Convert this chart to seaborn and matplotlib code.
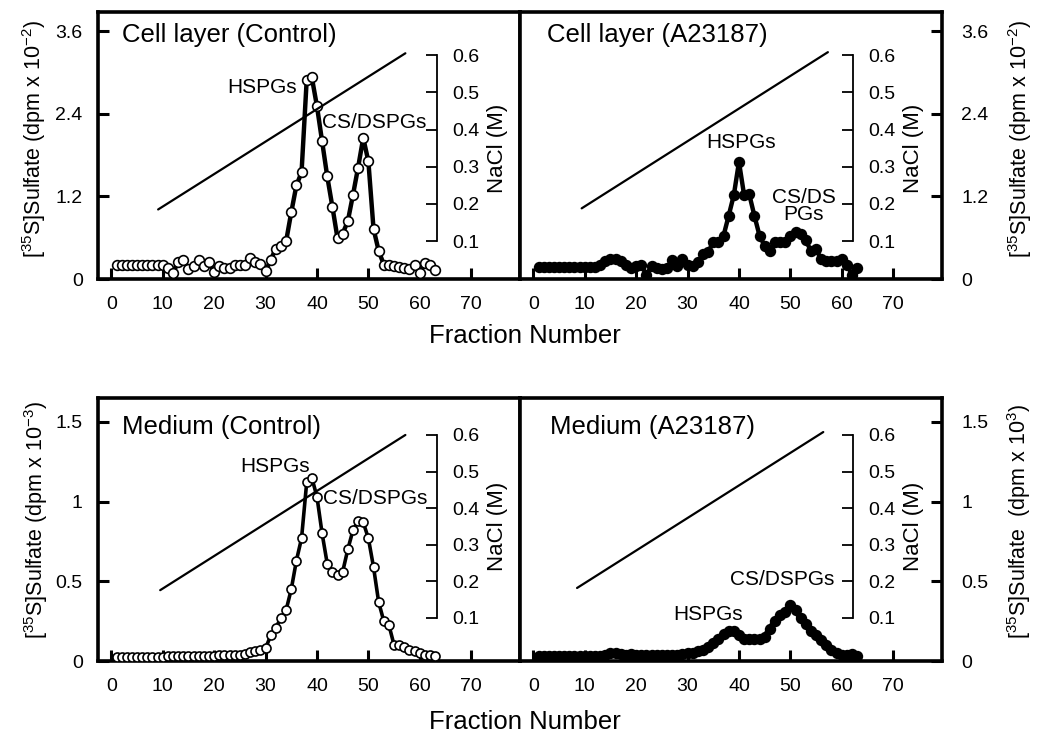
import matplotlib
matplotlib.use('Agg')
import matplotlib.pyplot as plt
import seaborn as sns


fractions = list(range(1, 64))

# [35S]sulfate, cell layer, x 10^2 dpm
cell_control = [
    0.20, 0.20, 0.20, 0.20, 0.20, 0.20, 0.20, 0.20, 0.20, 0.20,
    0.16, 0.09, 0.25, 0.28, 0.15, 0.19, 0.28, 0.19, 0.25, 0.10,
    0.19, 0.16, 0.16, 0.20, 0.21, 0.21, 0.30, 0.25, 0.22, 0.11,
    0.28, 0.44, 0.48, 0.55, 0.97, 1.36, 1.55, 2.89, 2.93, 2.51,
    2.00, 1.49, 1.05, 0.59, 0.66, 0.84, 1.22, 1.62, 2.05, 1.71,
    0.73, 0.41, 0.21, 0.20, 0.19, 0.17, 0.16, 0.14, 0.21, 0.09,
    0.23, 0.20, 0.13,
]
cell_a23187 = [
    0.17, 0.17, 0.17, 0.17, 0.17, 0.17, 0.17, 0.17, 0.17, 0.17,
    0.17, 0.17, 0.21, 0.26, 0.29, 0.29, 0.26, 0.21, 0.16, 0.19,
    0.20, 0.06, 0.19, 0.16, 0.14, 0.16, 0.28, 0.19, 0.29, 0.21,
    0.19, 0.24, 0.36, 0.39, 0.54, 0.54, 0.63, 0.92, 1.22, 1.70,
    1.22, 1.23, 0.92, 0.63, 0.48, 0.41, 0.54, 0.54, 0.54, 0.63,
    0.68, 0.65, 0.56, 0.41, 0.43, 0.29, 0.26, 0.26, 0.26, 0.29,
    0.21, 0.06, 0.16,
]

# [35S]sulfate, medium, x 10^3 dpm
medium_control = [
    0.025, 0.025, 0.025, 0.025, 0.025, 0.025, 0.025, 0.025, 0.025, 0.025,
    0.03, 0.03, 0.03, 0.03, 0.03, 0.03, 0.03, 0.03, 0.03, 0.03,
    0.04, 0.04, 0.04, 0.04, 0.04, 0.045, 0.055, 0.065, 0.07, 0.08,
    0.16, 0.21, 0.27, 0.32, 0.45, 0.63, 0.77, 1.12, 1.15, 1.03,
    0.80, 0.61, 0.56, 0.54, 0.56, 0.70, 0.82, 0.88, 0.87, 0.77,
    0.59, 0.37, 0.25, 0.225, 0.10, 0.10, 0.09, 0.07, 0.06, 0.05,
    0.04, 0.04, 0.03,
]
medium_a23187 = [
    0.03, 0.03, 0.03, 0.03, 0.03, 0.03, 0.03, 0.03, 0.03, 0.03,
    0.03, 0.03, 0.03, 0.04, 0.05, 0.05, 0.045, 0.04, 0.045, 0.04,
    0.04, 0.04, 0.04, 0.04, 0.04, 0.04, 0.04, 0.04, 0.045, 0.05,
    0.05, 0.06, 0.07, 0.09, 0.11, 0.14, 0.17, 0.19, 0.19, 0.16,
    0.14, 0.135, 0.135, 0.135, 0.15, 0.20, 0.25, 0.29, 0.31, 0.35,
    0.32, 0.27, 0.23, 0.19, 0.16, 0.13, 0.10, 0.07, 0.05, 0.04,
    0.04, 0.045, 0.03,
]

# NaCl gradient (start / end of the line)
grad_left_x = [9.1, 57.2]
grad_left_nacl = [0.185, 0.605]
grad_right_x = [9.4, 57.3]
grad_right_nacl = [0.188, 0.608]
grad_med_left_x = [9.5, 57.2]
grad_med_left_nacl = [0.176, 0.60]
grad_med_right_x = [8.5, 56.4]
grad_med_right_nacl = [0.182, 0.608]

x_ticks = [0, 10, 20, 30, 40, 50, 60, 70]
cell_yticks = [0, 1.2, 2.4, 3.6]
cell_yticklabels = ['0', '1.2', '2.4', '3.6']
medium_yticks = [0, 0.5, 1, 1.5]
medium_yticklabels = ['0', '0.5', '1', '1.5']
nacl_ticks = [0.1, 0.2, 0.3, 0.4, 0.5, 0.6]
nacl_ticklabels = ['0.1', '0.2', '0.3', '0.4', '0.5', '0.6']

W, H = 1045, 738
FONT = ['Liberation Sans', 'DejaVu Sans']


def rect(left, top, right, bottom):
    return [left / W, 1 - bottom / H, (right - left) / W, (bottom - top) / H]


def draw_panel(fig, box, values, filled, side, ylim, yticks, yticklabels,
               nacl_ylim, nacl_x, grad_x, grad_nacl, title, title_pos,
               notes, lw, ms):
    ax = fig.add_axes(rect(*box))
    ax.set_xlim(-2.6, 79.5)
    ax.set_ylim(*ylim)

    sns.lineplot(x=fractions, y=values, ax=ax, color='black', linewidth=lw,
                 marker='o', markersize=ms,
                 markerfacecolor='black' if filled else 'white',
                 markeredgecolor='black', markeredgewidth=1.2,
                 legend=False, zorder=3)
    ax.set_xlabel('')
    ax.set_ylabel('')

    # NaCl axis drawn inside the panel
    ax2 = ax.twinx()
    ax2.set_ylim(*nacl_ylim)
    for name in ['left', 'top', 'bottom']:
        ax2.spines[name].set_visible(False)
    ax2.spines['right'].set_position(('data', nacl_x))
    ax2.spines['right'].set_bounds(0.1, 0.6)
    ax2.spines['right'].set_linewidth(1.3)
    ax2.set_yticks(nacl_ticks)
    ax2.set_yticklabels(nacl_ticklabels)
    ax2.tick_params(axis='y', direction='in', length=8, width=1.3,
                    labelsize=14, pad=11)
    sns.lineplot(x=grad_x, y=grad_nacl, ax=ax2, color='black',
                 linewidth=1.6, legend=False)
    ax2.set_ylabel('')
    ax2.text(nacl_x + 11.8, 0.35, 'NaCl (M)', rotation=90, fontsize=16,
             ha='center', va='center', family=FONT)

    # main axis styling (after twinx, which resets the tick side)
    for sp in ax.spines.values():
        sp.set_linewidth(2.6)
        sp.set_color('black')
    ax.set_xticks(x_ticks)
    ax.set_xticklabels([str(t) for t in x_ticks])
    ax.set_yticks(yticks)
    ax.set_yticklabels(yticklabels)
    ax.tick_params(axis='x', direction='in', length=8, width=2.2,
                   labelsize=14, pad=12, top=False)
    if side == 'left':
        ax.yaxis.tick_left()
        ax.tick_params(axis='y', direction='in', length=8, width=2.2,
                       labelsize=14, pad=11)
    else:
        ax.yaxis.tick_right()
        ax.tick_params(axis='y', direction='in', length=8, width=2.2,
                       labelsize=14, pad=14)

    ax.text(title_pos[0], title_pos[1], title, transform=ax.transAxes,
            fontsize=18.5, ha='left', va='center', family=FONT)
    for txt, x, y in notes:
        ax.text(x, y, txt, fontsize=15, ha='center', va='center',
                linespacing=0.85, family=FONT, zorder=5)
    return ax


def main():
    sns.set_style('ticks')
    plt.rcParams['font.family'] = FONT
    plt.rcParams['text.color'] = 'black'
    plt.rcParams['axes.labelcolor'] = 'black'
    plt.rcParams['axes.edgecolor'] = 'black'
    plt.rcParams['xtick.color'] = 'black'
    plt.rcParams['ytick.color'] = 'black'
    plt.rcParams['mathtext.fontset'] = 'custom'
    plt.rcParams['mathtext.rm'] = 'Liberation Sans'
    plt.rcParams['mathtext.it'] = 'Liberation Sans:italic'
    plt.rcParams['mathtext.bf'] = 'Liberation Sans:bold'

    fig = plt.figure(figsize=(10.45, 7.38), dpi=100)

    top_ylim = (0, 3.88)
    top_nacl = (-0.002, 0.716)
    bot_ylim = (0, 1.65)
    bot_nacl = (-0.0175, 0.701)

    draw_panel(fig, (98, 12, 520, 279), cell_control, False, 'left',
               top_ylim, cell_yticks, cell_yticklabels, top_nacl, 63.4,
               grad_left_x, grad_left_nacl, 'Cell layer (Control)',
               (0.057, 0.914),
               [('HSPGs', 29.3, 2.78), ('CS/DSPGs', 51.1, 2.28)],
               lw=3.2, ms=7.0)
    draw_panel(fig, (520, 12, 942, 279), cell_a23187, True, 'right',
               top_ylim, cell_yticks, cell_yticklabels, top_nacl, 62.2,
               grad_right_x, grad_right_nacl, 'Cell layer (A23187)',
               (0.064, 0.914),
               [('HSPGs', 40.4, 1.99), ('CS/DS\nPGs', 52.6, 1.06)],
               lw=3.2, ms=7.0)
    draw_panel(fig, (98, 398, 520, 661), medium_control, False, 'left',
               bot_ylim, medium_yticks, medium_yticklabels, bot_nacl, 63.4,
               grad_med_left_x, grad_med_left_nacl, 'Medium (Control)',
               (0.057, 0.89),
               [('HSPGs', 31.8, 1.22), ('CS/DSPGs', 51.3, 1.02)],
               lw=2.6, ms=6.5)
    draw_panel(fig, (520, 398, 942, 661), medium_a23187, True, 'right',
               bot_ylim, medium_yticks, medium_yticklabels, bot_nacl, 62.2,
               grad_med_right_x, grad_med_right_nacl, 'Medium (A23187)',
               (0.071, 0.89),
               [('CS/DSPGs', 48.4, 0.51), ('HSPGs', 34.0, 0.29)],
               lw=4.5, ms=7.0)

    fig.text(525 / W, 1 - 336 / H, 'Fraction Number', fontsize=18.5,
             ha='center', va='center')
    fig.text(525 / W, 1 - 722 / H, 'Fraction Number', fontsize=18.5,
             ha='center', va='center')

    lab_top = r'[$^{35}$S]Sulfate (dpm x 10$^{-2}$)'
    fig.text(34 / W, 1 - 139 / H, lab_top, rotation=90, fontsize=15.5,
             ha='center', va='center')
    fig.text(1020 / W, 1 - 139 / H, lab_top, rotation=90, fontsize=15.5,
             ha='center', va='center')
    fig.text(36 / W, 1 - 520 / H, r'[$^{35}$S]Sulfate (dpm x 10$^{-3}$)',
             rotation=90, fontsize=15.5, ha='center', va='center')
    fig.text(1019 / W, 1 - 521 / H, r'[$^{35}$S]Sulfate  (dpm x 10$^{3}$)',
             rotation=90, fontsize=15.5, ha='center', va='center')

    fig.savefig('out.png', dpi=100)
    plt.close(fig)


if __name__ == '__main__':
    main()
